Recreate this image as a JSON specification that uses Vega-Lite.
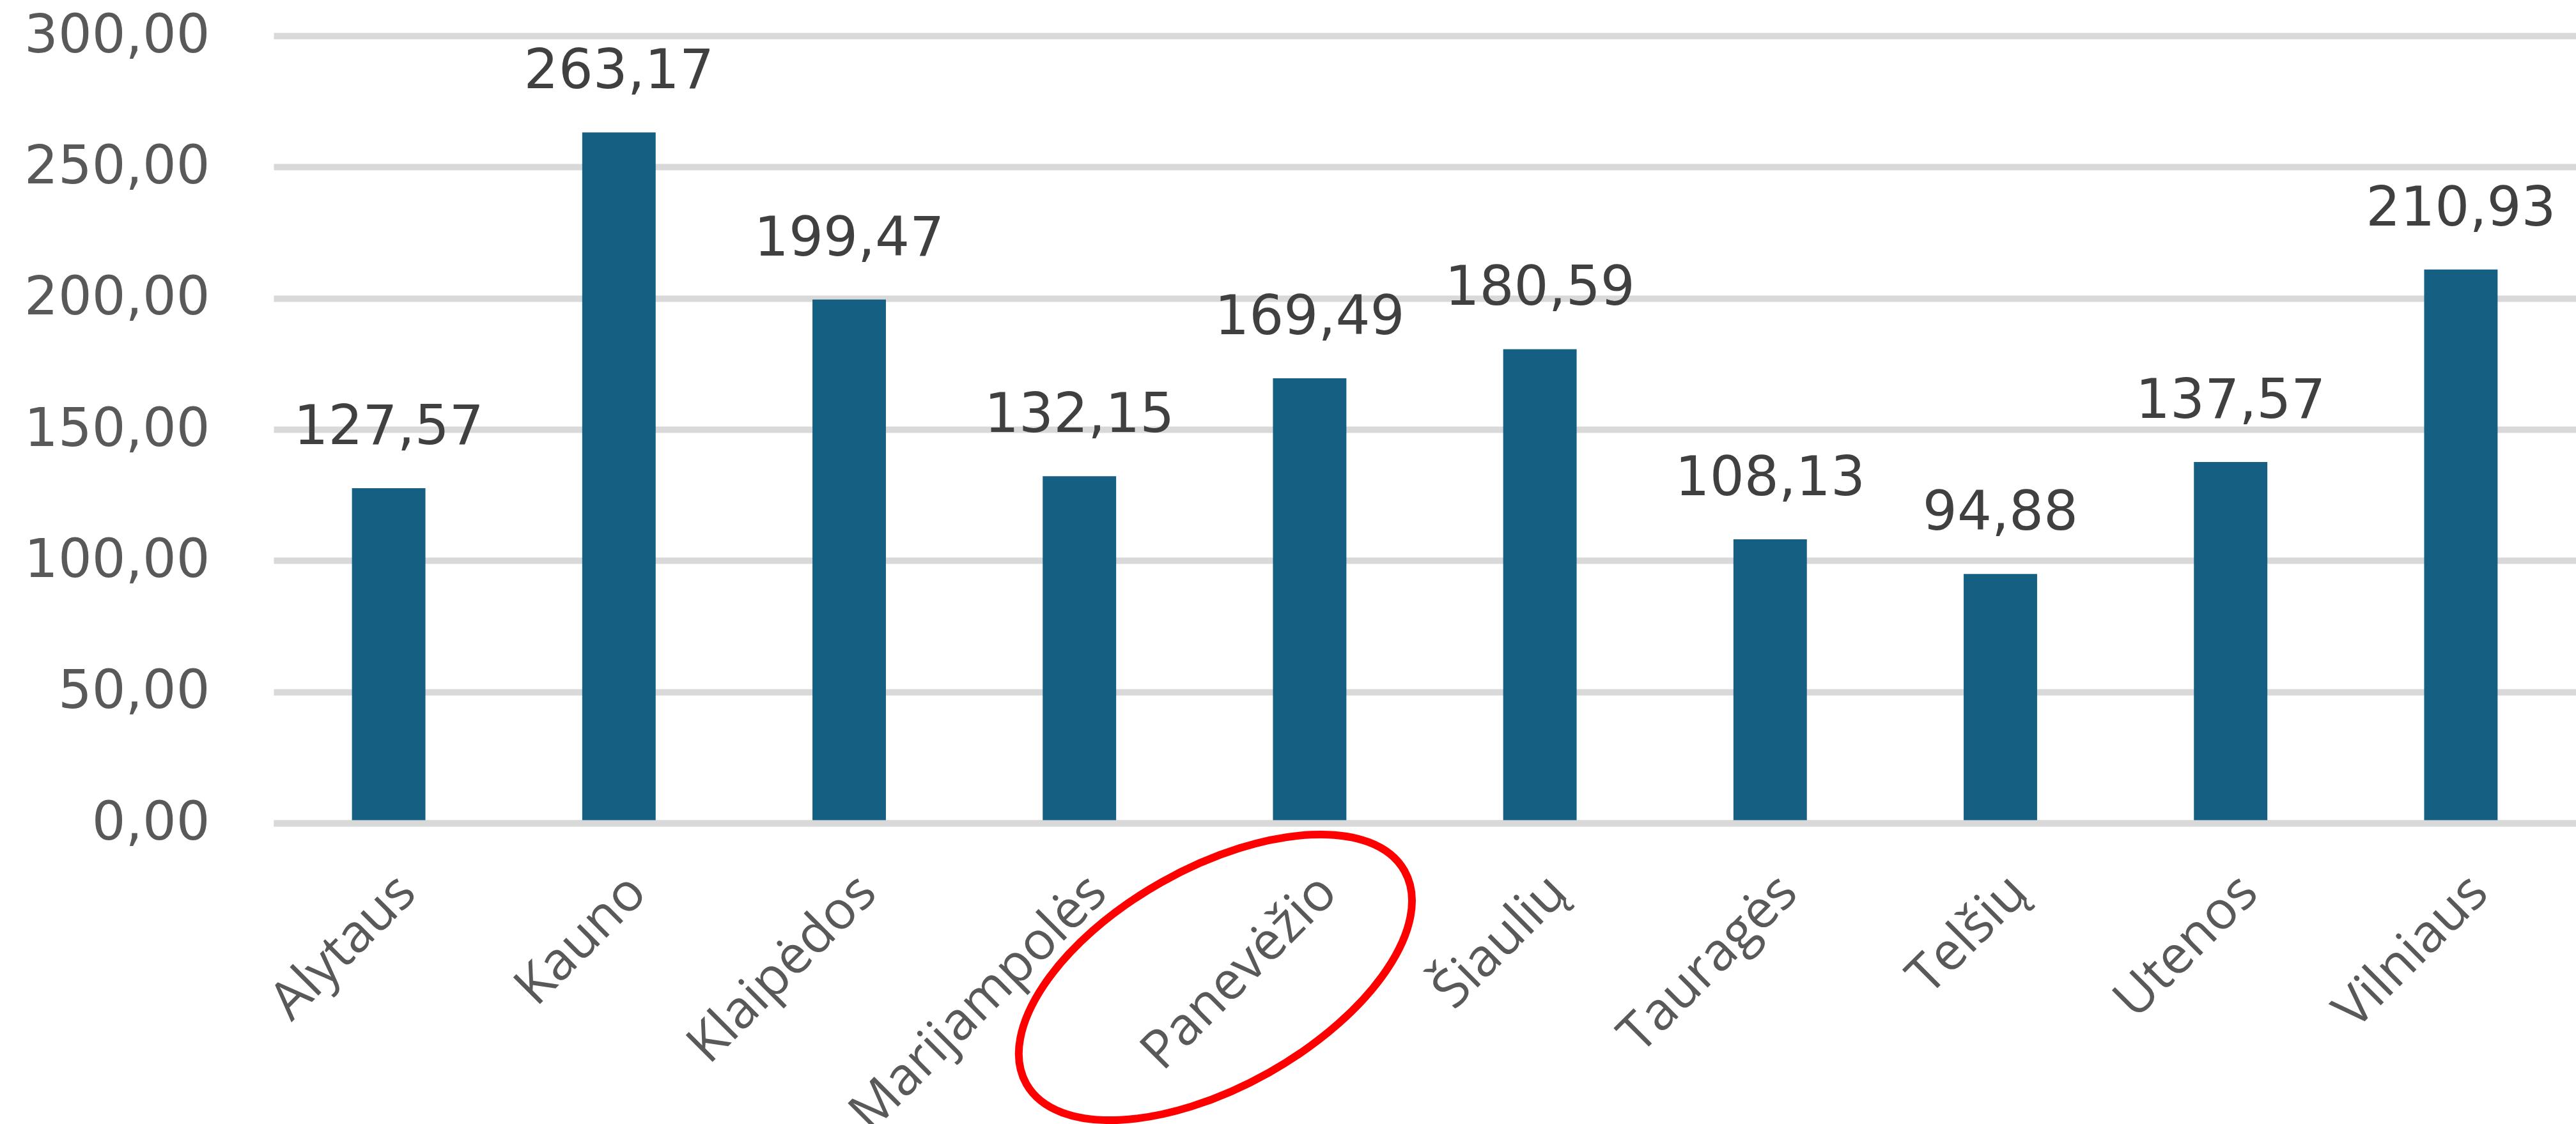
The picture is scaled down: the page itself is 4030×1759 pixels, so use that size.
{
  "$schema": "https://vega.github.io/schema/vega-lite/v6.json",
  "width": 3602,
  "height": 1232,
  "autosize": {"type": "none"},
  "padding": {"left": 428, "top": 56, "right": 0, "bottom": 471},
  "background": "#ffffff",
  "config": {
    "view": {"stroke": null},
    "locale": {"number": {"decimal": ",", "thousands": " ", "grouping": [3], "currency": ["", " €"]}}
  },
  "data": {
    "values": [
      {"region": "Alytaus", "value": 127.57},
      {"region": "Kauno", "value": 263.17},
      {"region": "Klaipėdos", "value": 199.47},
      {"region": "Marijampolės", "value": 132.15},
      {"region": "Panevėžio", "value": 169.49},
      {"region": "Šiaulių", "value": 180.59},
      {"region": "Tauragės", "value": 108.13},
      {"region": "Telšių", "value": 94.88},
      {"region": "Utenos", "value": 137.57},
      {"region": "Vilniaus", "value": 210.93}
    ]
  },
  "encoding": {
    "x": {
      "field": "region",
      "type": "nominal",
      "sort": null,
      "scale": {"paddingInner": 0.681, "paddingOuter": 0.3405},
      "axis": {
        "title": null,
        "domain": true,
        "domainColor": "#d9d9d9",
        "domainWidth": 10,
        "ticks": false,
        "tickSize": 0,
        "grid": false,
        "labelAngle": -45,
        "labelAlign": "right",
        "labelBaseline": "top",
        "labelFont": "Open Sans",
        "labelFontSize": 83,
        "labelColor": "#595959",
        "labelPadding": 66,
        "labelLimit": 0,
        "labelOverlap": false,
        "zindex": 1
      }
    },
    "y": {
      "field": "value",
      "type": "quantitative",
      "scale": {"domain": [0, 300], "nice": false, "zero": true},
      "axis": {
        "title": null,
        "values": [0, 50, 100, 150, 200, 250, 300],
        "format": ".2f",
        "grid": true,
        "gridColor": "#d9d9d9",
        "gridWidth": 10,
        "domain": false,
        "ticks": false,
        "tickSize": 0,
        "labelFont": "DejaVu Sans",
        "labelFontSize": 83,
        "labelColor": "#595959",
        "labelPadding": 100,
        "labelLimit": 0,
        "labelOverlap": false
      }
    }
  },
  "layer": [
    {
      "mark": {"type": "bar", "color": "#156082"}
    },
    {
      "mark": {
        "type": "text",
        "font": "DejaVu Sans",
        "fontSize": 85,
        "color": "#404040",
        "align": "center",
        "baseline": "alphabetic",
        "dy": -69
      },
      "encoding": {
        "text": {"field": "value", "type": "quantitative", "format": ".2f"}
      }
    },
    {
      "data": {"values": [{"region": "Panevėžio", "value": -58.8}]},
      "mark": {
        "type": "point",
        "shape": "M1.483,-1.667 A3.395,1.71,-29.4,1,0,-4.433,1.667 A3.395,1.71,-29.4,1,0,1.483,-1.667 Z",
        "size": 40000,
        "filled": false,
        "color": "#ff0000",
        "strokeWidth": 12,
        "opacity": 1
      }
    }
  ]
}
